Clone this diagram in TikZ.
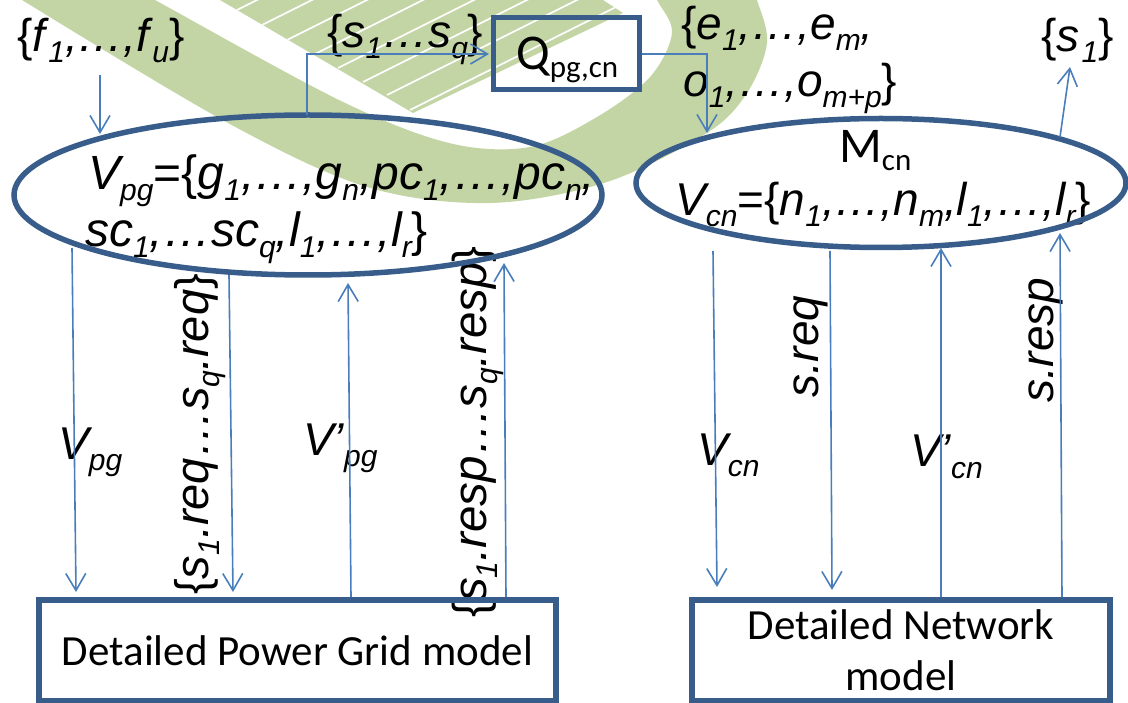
\documentclass[tikz,border=0pt]{standalone}
\usepackage{fontspec}
\setmainfont{Liberation Sans}
\newfontfamily\calfont{Carlito}
\usetikzlibrary{arrows.meta,shapes.geometric}
\definecolor{boxblue}{HTML}{385D8A}
\definecolor{linkblue}{HTML}{4A7EBB}
\definecolor{markgreen}{HTML}{C3D5A4}
\newcommand{\dn}[1]{\raisebox{-11pt}{\fontsize{30}{30}\selectfont #1}}
\newcommand{\cdn}[1]{\raisebox{-8pt}{\fontsize{31}{31}\selectfont #1}}
\newcommand{\lb}{{\upshape\{}}
\newcommand{\rb}{{\upshape\}}}
\begin{document}
\begin{tikzpicture}[
		x=1pt, y=-1pt,
		lbl/.style   = {font=\fontsize{46}{57}\selectfont\itshape, inner sep=0pt, anchor=base west, align=left},
		rlbl/.style  = {lbl, rotate=90},
		bigl/.style  = {lbl, font=\fontsize{48}{57}\selectfont\itshape},
		head/.style  = {font=\calfont\fontsize{50}{50}\selectfont, inner sep=0pt, anchor=base west},
		model/.style = {draw=boxblue, line width=5.5pt, inner sep=0pt, align=center, font=\calfont\fontsize{43}{51}\selectfont},
		oval/.style  = {draw=boxblue, line width=5.5pt, ellipse, inner sep=0pt},
		link/.style  = {draw=linkblue, line width=1.6pt, -{Straight Barb[length=17pt,width=20pt,line width=1.6pt]}}
		]
		\useasboundingbox (0,0) rectangle (1128,703);
		
		% Watermark behind the picture
		\fill[markgreen] plot[smooth cycle, tension=0.55] coordinates {
			(-22,-30) (22,0) (228,123) (367,187) (490,203) (607,182) (707,133)
			(747,93) (767,43) (757,0) (745,-30) (640,-30) (657,0) (672,33)
			(650,77) (597,117) (530,147) (449,143) (339,100) (155,0) (110,-25)};
		\begin{scope}
			\clip (220,0) -- (413,113) -- (623,13) -- (603,0) -- cycle;
			\fill[markgreen] (200,0) rectangle (640,120);
			\foreach \sx/\sy in {237/10,262/25,287/40,313/55,338/68,363/82,387/95,410/110}
				\draw[white, line width=1.6pt] (\sx,\sy) -- ++(300,-150);
		\end{scope}
		
		% Labels top
		\node[lbl] (flab) at (17,52) {\lb f\kern3pt\dn{1},…,f\kern3pt\dn{u}\rb};
		\node[lbl] (slab) at (327,48) {\lb s\dn{1}…s\dn{q}\rb};
		\node[lbl] (elab) at (681,40) {\lb e\dn{1},…,e\dn{m},};
		\node[lbl] (olab) at (683,97) {o\dn{1},…,o\dn{m+p}\rb};
		\node[lbl] (s1lab) at (1041,52) {\lb s\kern2pt\dn{1}\rb};
		
		% Labels in the ovals
		\node[bigl] (vpgset) at (88,190) {V\dn{pg}{\upshape =}\lb g\dn{1},…,g\dn{n},pc\dn{1},…,pc\dn{n},};
		\node[bigl] (scset) at (85,247) {sc\dn{1},…sc\dn{q},l\dn{1},…,l\dn{r}\rb};
		\node[head] (mlab) at (839,163) {M\cdn{cn}};
		\node[lbl] (vcnset) at (675,216) {V\dn{cn}{\upshape =}\lb n\dn{1},…,n\dn{m},l\dn{1},…,l\dn{r}\rb};
		
		% Labels on the links
		\node[lbl] (vpglab) at (58,460) {V\dn{pg}};
		\node[lbl] (vpplab) at (303,455) {V’\dn{pg}};
		\node[lbl] (vcnlab) at (697,465) {V\dn{cn}};
		\node[lbl] (vcplab) at (910,467) {V’\dn{cn}};
		\node[rlbl, font=\fontsize{47}{57}\selectfont\itshape] (reqlab) at (208,595) {\lb s\dn{1}.req…s\dn{q}.req\rb};
		\node[rlbl, font=\fontsize{47.5}{57}\selectfont\itshape] (resplab) at (486,618) {\lb s\dn{1}.resp…s\dn{q}.resp\rb};
		\node[rlbl] (sreqlab) at (818,398) {s.req};
		\node[rlbl] (sresplab) at (1053,403) {s.resp};
		
		% Boxes and ovals
		\node[oval, minimum width=588pt, minimum height=160pt] (pg) at (308,195) {};
		\node[oval, minimum width=490pt, minimum height=129pt] (cn) at (881,183) {};
		\node[draw=boxblue, line width=5.5pt, minimum width=146pt, minimum height=72pt, inner sep=0pt] (qbox) at (566.5,53.5) {};
		\node[head] (qlab) at (516,70) {Q\cdn{pg,cn}};
		\node[model, minimum width=517pt, minimum height=101pt] (pgmodel) at (297.5,650.5) {Detailed Power Grid model};
		\node[model, minimum width=418pt, minimum height=101pt] (cnmodel) at (901,650.5) {Detailed Network\\model};
		
		% Free ends of the links
		\coordinate (fa) at (100,75);
		\coordinate (fb) at (100,134);
		\coordinate (sa) at (307,115);
		\coordinate (sb) at (307,54);
		\coordinate (sc) at (489,54);
		\coordinate (qb) at (707,54);
		\coordinate (qc) at (707,133);
		\coordinate (ua) at (1060,137);
		\coordinate (ub) at (1070,67);
		\coordinate (da) at (72,248);
		\coordinate (db) at (76,592);
		\coordinate (ra) at (229,275);
		\coordinate (rb) at (233,592);
		\coordinate (va) at (351,597);
		\coordinate (vb) at (348,283);
		\coordinate (ka) at (506,597);
		\coordinate (kb) at (504,263);
		\coordinate (ca) at (713,251);
		\coordinate (cb) at (717,587);
		\coordinate (ea) at (830,251);
		\coordinate (eb) at (832,590);
		\coordinate (wa) at (941,597);
		\coordinate (wb) at (941,248);
		\coordinate (ta) at (1062,597);
		\coordinate (tb) at (1060,233);
		
		\draw[link] (fa) -- (fb);
		\draw[link] (sa) -- (sb) -- (sc);
		\draw[link] (qbox.east |- qb) -- (qb) -- (qc);
		\draw[link] (ua) -- (ub);
		\draw[link] (da) -- (db);
		\draw[link] (ra) -- (rb);
		\draw[link] (va) -- (vb);
		\draw[link] (ka) -- (kb);
		\draw[link] (ca) -- (cb);
		\draw[link] (ea) -- (eb);
		\draw[link] (wa) -- (wb);
		\draw[link] (ta) -- (tb);
	\end{tikzpicture}
\end{document}
